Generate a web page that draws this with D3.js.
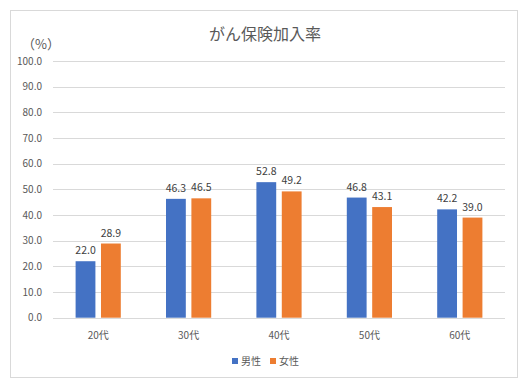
<!DOCTYPE html>
<html>
<head>
<meta charset="utf-8">
<script src="https://cdn.jsdelivr.net/npm/d3@7"></script>
<style>
  body { margin: 0; background: #fff; }
  svg text { font-family: "Noto Sans CJK JP", "Noto Sans", sans-serif; }
</style>
</head>
<body>
<svg id="chart"></svg>
<script>
// data
const categories = ['20代', '30代', '40代', '50代', '60代'];
const seriesNames = ['男性', '女性'];
const maleValues = [22.0, 46.3, 52.8, 46.8, 42.2];
const femaleValues = [28.9, 46.5, 49.2, 43.1, 39.0];
const yTicks = [0, 10, 20, 30, 40, 50, 60, 70, 80, 90, 100];
const colors = ['#4472C4', '#ED7D31'];

const w = 531, h = 387;
const plotLeft = 53, plotRight = 505, plotTop = 61, plotBottom = 317.7;

const svg = d3.select('#chart').attr('width', w).attr('height', h);

// chart border
svg.append('rect')
   .attr('x', 10.5).attr('y', 10.5)
   .attr('width', 507).attr('height', 367)
   .attr('fill', '#fff')
   .attr('stroke', '#D9D9D9');

const y = d3.scaleLinear().domain([0, 100]).range([plotBottom, plotTop]);
const x0 = d3.scaleBand().domain(categories).range([plotLeft, plotRight]).paddingInner(0.5).paddingOuter(0.25);
const x1 = d3.scaleBand().domain(seriesNames).range([0, x0.bandwidth()]).paddingInner(0.22);

// grid
svg.append('g').selectAll('line')
   .data(yTicks)
   .enter().append('line')
   .attr('x1', plotLeft).attr('x2', plotRight)
   .attr('y1', d => Math.round(y(d)) + 0.5)
   .attr('y2', d => Math.round(y(d)) + 0.5)
   .attr('stroke', '#D9D9D9');

// y tick labels
svg.append('g').selectAll('text')
   .data(yTicks)
   .enter().append('text')
   .attr('x', 42)
   .attr('y', d => y(d))
   .attr('dy', '0.35em')
   .attr('text-anchor', 'end')
   .attr('font-size', 10)
   .attr('fill', '#595959')
   .text(d => d.toFixed(1));

// bars
const rows = categories.map((c, i) => ({ cat: c, vals: [maleValues[i], femaleValues[i]] }));
const groups = svg.append('g').selectAll('g')
   .data(rows)
   .enter().append('g')
   .attr('transform', d => `translate(${x0(d.cat)},0)`);

groups.selectAll('rect')
   .data(d => d.vals.map((v, j) => ({ name: seriesNames[j], v, j })))
   .enter().append('rect')
   .attr('x', d => x1(d.name))
   .attr('y', d => y(d.v))
   .attr('width', x1.bandwidth())
   .attr('height', d => y(0) - y(d.v))
   .attr('fill', d => colors[d.j]);

groups.selectAll('text')
   .data(d => d.vals.map((v, j) => ({ name: seriesNames[j], v, j })))
   .enter().append('text')
   .attr('x', d => x1(d.name) + x1.bandwidth() / 2)
   .attr('y', d => y(d.v) - 7)
   .attr('text-anchor', 'middle')
   .attr('font-size', 10.5)
   .attr('fill', '#404040')
   .text(d => d.v.toFixed(1));

// category labels
svg.append('g').selectAll('text')
   .data(categories)
   .enter().append('text')
   .attr('x', d => x0(d) + x0.bandwidth() / 2)
   .attr('y', 335)
   .attr('dy', '0.35em')
   .attr('text-anchor', 'middle')
   .attr('font-size', 10)
   .attr('fill', '#595959')
   .text(d => d);

// title
svg.append('text')
   .attr('x', 265).attr('y', 34)
   .attr('dy', '0.35em')
   .attr('text-anchor', 'middle')
   .attr('font-size', 16)
   .attr('fill', '#595959')
   .text('がん保険加入率');

// unit
svg.append('text')
   .attr('x', 22).attr('y', 44)
   .attr('dy', '0.35em')
   .attr('font-size', 13)
   .attr('fill', '#595959')
   .text('（%）');

// legend
const legend = svg.append('g').attr('transform', 'translate(232,361)');
const items = legend.selectAll('g')
   .data(seriesNames)
   .enter().append('g')
   .attr('transform', (d, i) => `translate(${i * 38},0)`);
items.append('rect')
   .attr('x', 0).attr('y', -3)
   .attr('width', 6).attr('height', 6)
   .attr('fill', (d, i) => colors[i]);
items.append('text')
   .attr('x', 9).attr('y', 0)
   .attr('dy', '0.35em')
   .attr('font-size', 10)
   .attr('fill', '#595959')
   .text(d => d);
</script>
</body>
</html>
